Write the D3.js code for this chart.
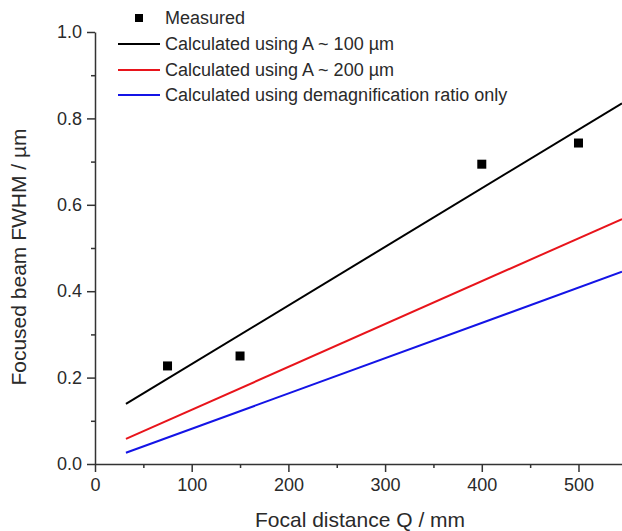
<!DOCTYPE html>
<html>
<head>
<meta charset="utf-8">
<script src="https://cdn.jsdelivr.net/npm/d3@7"></script>
<style>
  body { margin: 0; background: #fff; }
  svg text { font-family: Arial, "Liberation Sans", sans-serif; fill: #2a2a2a; }
</style>
</head>
<body>
<div id="chart"></div>
<script>
// measured points
const measuredQ = [75, 150, 400, 500];
const measuredFWHM = [0.227, 0.25, 0.694, 0.743];

// calculated lines (straight, end points)
const calcQ = [32, 545];
const calcA100 = [0.139, 0.835];
const calcA200 = [0.058, 0.567];
const calcDemag = [0.026, 0.445];

const xTicks = [0, 100, 200, 300, 400, 500];
const yTicks = [0, 0.2, 0.4, 0.6, 0.8, 1.0];

const legendLabels = [
    "Measured",
    "Calculated using A ~ 100 \u00b5m",
    "Calculated using A ~ 200 \u00b5m",
    "Calculated using demagnification ratio only"
];
const lineColors = ["#000000", "#e8141b", "#1414e6"];

const width = 622;
const height = 531;
const margin = { top: 32, right: 0, bottom: 67, left: 95 };

const svg = d3.select("#chart")
    .append("svg")
    .attr("width", width)
    .attr("height", height);

const x = d3.scaleLinear()
    .domain([0, 545])
    .range([margin.left, width - margin.right]);

const y = d3.scaleLinear()
    .domain([0, 1])
    .range([height - margin.bottom, margin.top]);

// minor ticks
svg.append("g")
    .attr("transform", `translate(0,${y(0)})`)
    .call(d3.axisBottom(x).tickValues(d3.range(50, 545, 100)).tickSize(4).tickFormat(""))
    .call(g => g.select(".domain").remove())
    .call(g => g.selectAll("line").attr("stroke", "#333").attr("stroke-width", 1.5));

svg.append("g")
    .attr("transform", `translate(${x(0)},0)`)
    .call(d3.axisLeft(y).tickValues(d3.range(0.1, 1, 0.2)).tickSize(4).tickFormat(""))
    .call(g => g.select(".domain").remove())
    .call(g => g.selectAll("line").attr("stroke", "#333").attr("stroke-width", 1.5));

// main axes
const xAxis = svg.append("g")
    .attr("transform", `translate(0,${y(0)})`)
    .call(d3.axisBottom(x).tickValues(xTicks).tickSize(8).tickSizeOuter(0).tickPadding(6));

const yAxis = svg.append("g")
    .attr("transform", `translate(${x(0)},0)`)
    .call(d3.axisLeft(y).tickValues(yTicks).tickSize(8).tickSizeOuter(0).tickPadding(5).tickFormat(d3.format(".1f")));

[xAxis, yAxis].forEach(g => {
    g.select(".domain").attr("stroke", "#333").attr("stroke-width", 1.5);
    g.selectAll("line").attr("stroke", "#333").attr("stroke-width", 1.5);
    g.selectAll("text").attr("font-size", 18).style("fill", "#2a2a2a");
});

// calculated lines
const series = [calcA100, calcA200, calcDemag];
const line = d3.line()
    .x((d, i) => x(calcQ[i]))
    .y(d => y(d));

series.forEach((s, i) => {
    svg.append("path")
        .datum(s)
        .attr("d", line)
        .attr("fill", "none")
        .attr("stroke", lineColors[i])
        .attr("stroke-width", 2);
});

// measured squares
const sq = 9;
svg.append("g")
    .selectAll("rect")
    .data(measuredQ)
    .enter().append("rect")
    .attr("x", d => x(d) - sq / 2)
    .attr("y", (d, i) => y(measuredFWHM[i]) - sq / 2)
    .attr("width", sq)
    .attr("height", sq)
    .attr("fill", "#000");

// legend
const legend = svg.append("g");
const legendY = [18, 44, 70, 95];
legend.append("rect")
    .attr("x", 139 - 4)
    .attr("y", legendY[0] - 4)
    .attr("width", 8)
    .attr("height", 8)
    .attr("fill", "#000");

lineColors.forEach((c, i) => {
    legend.append("line")
        .attr("x1", 118)
        .attr("x2", 160)
        .attr("y1", legendY[i + 1])
        .attr("y2", legendY[i + 1])
        .attr("stroke", c)
        .attr("stroke-width", 2);
});

legendLabels.forEach((t, i) => {
    legend.append("text")
        .attr("x", 165)
        .attr("y", legendY[i])
        .attr("dy", "0.35em")
        .attr("font-size", 18)
        .text(t);
});

// axis titles
svg.append("text")
    .attr("x", 360)
    .attr("y", 527)
    .attr("text-anchor", "middle")
    .attr("font-size", 21)
    .text("Focal distance Q / mm");

svg.append("text")
    .attr("transform", `translate(26,257) rotate(-90)`)
    .attr("text-anchor", "middle")
    .attr("font-size", 21)
    .text("Focused beam FWHM / \u00b5m");
</script>
</body>
</html>
